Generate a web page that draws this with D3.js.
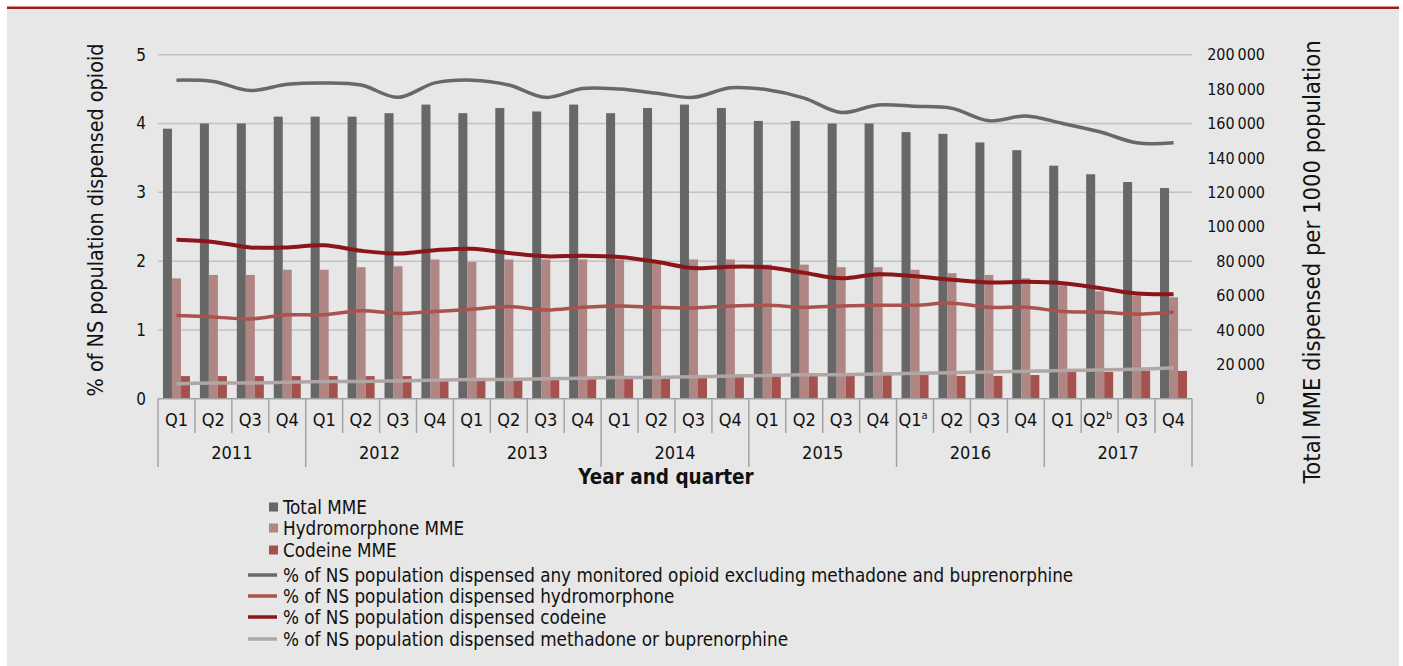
<!DOCTYPE html>
<meta charset="utf-8">
<style>
body { margin: 0; background: #fff; }
text { font-family: "Liberation Sans Narrow", "DejaVu Sans Condensed", sans-serif; fill: #111; }
</style>
<body>
<script src="https://d3js.org/d3.v7.min.js"></script>
<script>

const width = 1403,
    height = 666

// categories
var years = ['2011', '2012', '2013', '2014', '2015', '2016', '2017']
var quarters = ['Q1', 'Q2', 'Q3', 'Q4']
var supers = { '2016-Q1': 'a', '2017-Q2': 'b' }

// bar series (right axis, MME per 1000 population)
var totalMME = [157000, 160000, 160000, 164000, 164000, 164000, 166000, 171000,
    166000, 169000, 167000, 171000, 166000, 169000, 171000, 169000,
    161500, 161500, 160000, 160000, 155000, 154000, 149000, 144500,
    135500, 130500, 126000, 122500]
var hydroMME = [70000, 72000, 72000, 75000, 75000, 76500, 77000, 81000,
    79500, 81000, 81000, 81000, 81000, 79000, 81000, 81000,
    78000, 78000, 76500, 76500, 75000, 73000, 72000, 70000,
    66000, 62500, 60000, 59000]
var codeineMME = [13200, 13200, 13200, 13200, 13200, 13200, 13200, 11200,
    11300, 11400, 11500, 11600, 11700, 12100, 12500, 13800,
    12900, 13300, 13800, 13800, 13800, 13300, 13300, 13800,
    15600, 15600, 16400, 16200]

// line series (left axis, %)
var anyOpioidPct = [4.63, 4.61, 4.48, 4.57, 4.59, 4.56, 4.38, 4.59,
    4.63, 4.56, 4.38, 4.51, 4.50, 4.44, 4.38, 4.52,
    4.49, 4.37, 4.16, 4.27, 4.25, 4.22, 4.04, 4.11,
    4.00, 3.88, 3.72, 3.72]
var hydroPct = [1.21, 1.19, 1.16, 1.22, 1.22, 1.28, 1.24, 1.27,
    1.30, 1.34, 1.29, 1.33, 1.35, 1.33, 1.32, 1.35,
    1.36, 1.33, 1.35, 1.36, 1.36, 1.39, 1.33, 1.33,
    1.27, 1.26, 1.23, 1.26]
var codeinePct = [2.31, 2.28, 2.20, 2.20, 2.23, 2.15, 2.11, 2.16,
    2.18, 2.12, 2.07, 2.08, 2.06, 1.99, 1.90, 1.92,
    1.91, 1.83, 1.75, 1.81, 1.78, 1.73, 1.69, 1.70,
    1.68, 1.61, 1.53, 1.52]
var methadonePct = [0.22, 0.23, 0.23, 0.24, 0.25, 0.25, 0.26, 0.27,
    0.28, 0.28, 0.29, 0.30, 0.31, 0.31, 0.32, 0.33,
    0.34, 0.35, 0.35, 0.36, 0.37, 0.38, 0.39, 0.40,
    0.41, 0.42, 0.43, 0.45]

var leftTicks = [0, 1, 2, 3, 4, 5]
var rightTicks = d3.range(0, 200001, 20000)

var barSeries = [
    { name: 'Total MME', values: totalMME, color: '#666766' },
    { name: 'Hydromorphone MME', values: hydroMME, color: '#b08684' },
    { name: 'Codeine MME', values: codeineMME, color: '#a5524f' }
]
var lineSeries = [
    { name: '% of NS population dispensed any monitored opioid excluding methadone and buprenorphine', values: anyOpioidPct, color: '#686868', w: 3.5 },
    { name: '% of NS population dispensed hydromorphone', values: hydroPct, color: '#a9524e', w: 3.5 },
    { name: '% of NS population dispensed codeine', values: codeinePct, color: '#8b1518', w: 4 },
    { name: '% of NS population dispensed methadone or buprenorphine', values: methadonePct, color: '#b1a6a6', w: 3.5 }
]

var cats = []
years.forEach(function (y) {
    quarters.forEach(function (q) { cats.push(y + '-' + q) })
})

var svg = d3.select('body')
    .append('svg')
    .attr('width', width)
    .attr('height', height)

// panel
svg.append('rect')
    .attr('x', 7).attr('y', 8)
    .attr('width', 1392).attr('height', 658)
    .attr('fill', '#e6e7e6')
svg.append('rect')
    .attr('x', 7).attr('y', 6.5)
    .attr('width', 1392).attr('height', 2.5)
    .attr('fill', '#9d1b1b')

var x = d3.scaleBand().domain(cats).range([158, 1192])
var xSub = d3.scaleBand().domain([0, 1, 2])
    .range([0, x.bandwidth()])
    .paddingOuter(0.55)
var yL = d3.scaleLinear().domain([0, 5]).range([398.8, 54.7])
var yR = d3.scaleLinear().domain([0, 200000]).range([398.8, 54.7])

// gridlines
svg.append('g').selectAll('line')
    .data(leftTicks.slice(1))
    .enter().append('line')
    .attr('x1', 158).attr('x2', 1192)
    .attr('y1', function (d) { return yL(d) })
    .attr('y2', function (d) { return yL(d) })
    .attr('stroke', '#c2c2c2')
    .attr('stroke-width', 1.5)

// left tick labels
svg.append('g').selectAll('text')
    .data(leftTicks)
    .enter().append('text')
    .attr('x', 146)
    .attr('y', function (d) { return yL(d) })
    .attr('dy', '0.35em')
    .attr('text-anchor', 'end')
    .style('font-size', '17px')
    .text(function (d) { return d })

// right tick labels
svg.append('g').selectAll('text')
    .data(rightTicks)
    .enter().append('text')
    .attr('x', 1265)
    .attr('y', function (d) { return yR(d) })
    .attr('dy', '0.35em')
    .attr('text-anchor', 'end')
    .style('font-size', '16px')
    .text(function (d) { return d3.format(',')(d).replace(/,/g, '\u2009') })

// bars
barSeries.forEach(function (s, i) {
    svg.append('g').selectAll('rect')
        .data(s.values)
        .enter().append('rect')
        .attr('x', function (d, j) { return x(cats[j]) + xSub(i) })
        .attr('width', xSub.bandwidth())
        .attr('y', function (d) { return yR(d) })
        .attr('height', function (d) { return yR(0) - yR(d) })
        .attr('fill', s.color)
})

// lines
var line = d3.line()
    .x(function (d, j) { return x(cats[j]) + x.bandwidth() / 2 })
    .y(function (d) { return yL(d) })
    .curve(d3.curveCatmullRom.alpha(0.5))

lineSeries.slice().reverse().forEach(function (s) {
    svg.append('path')
        .datum(s.values)
        .attr('d', line)
        .attr('fill', 'none')
        .attr('stroke', s.color)
        .attr('stroke-width', s.w)
})

// category axis
var axis = svg.append('g').attr('stroke', '#a3a3a3').attr('stroke-width', 1.5)
axis.append('line')
    .attr('x1', 158).attr('x2', 1192)
    .attr('y1', 398.8).attr('y2', 398.8)
axis.selectAll('.qdiv')
    .data(cats)
    .enter().append('line')
    .attr('x1', function (d) { return x(d) })
    .attr('x2', function (d) { return x(d) })
    .attr('y1', 398.8)
    .attr('y2', function (d) { return d.slice(5) === 'Q1' ? 467 : 433 })
axis.append('line')
    .attr('x1', 1192).attr('x2', 1192)
    .attr('y1', 398.8).attr('y2', 467)

var qLabels = svg.append('g').selectAll('text')
    .data(cats)
    .enter().append('text')
    .attr('x', function (d) { return x(d) + x.bandwidth() / 2 + (supers[d] ? -2 : 0) })
    .attr('y', 426)
    .attr('text-anchor', 'middle')
    .style('font-size', '18px')
qLabels.append('tspan').text(function (d) { return d.slice(5) })
qLabels.filter(function (d) { return supers[d] })
    .append('tspan')
    .attr('dy', -7)
    .style('font-size', '11px')
    .text(function (d) { return supers[d] })

svg.append('g').selectAll('text')
    .data(years)
    .enter().append('text')
    .attr('x', function (d) { return (x(d + '-Q1') + x(d + '-Q4') + x.bandwidth()) / 2 })
    .attr('y', 459)
    .attr('text-anchor', 'middle')
    .style('font-size', '18px')
    .text(function (d) { return d })

// axis titles
svg.append('text')
    .attr('x', 666).attr('y', 484)
    .attr('text-anchor', 'middle')
    .style('font-size', '20.5px')
    .style('font-weight', 'bold')
    .text('Year and quarter')

svg.append('text')
    .attr('transform', 'translate(95,220) rotate(-90)')
    .attr('text-anchor', 'middle')
    .attr('dy', '0.35em')
    .style('font-size', '21.4px')
    .text('% of NS population dispensed opioid')

svg.append('text')
    .attr('transform', 'translate(1312,262) rotate(-90)')
    .attr('text-anchor', 'middle')
    .attr('dy', '0.35em')
    .style('font-size', '23.6px')
    .text('Total MME dispensed per 1000 population')

// legend
var legendRows = [507, 528, 550, 575, 596, 617, 639]
var legend = svg.append('g')
barSeries.forEach(function (s, i) {
    legend.append('rect')
        .attr('x', 269).attr('y', legendRows[i] - 4.5)
        .attr('width', 9).attr('height', 9)
        .attr('fill', s.color)
    legend.append('text')
        .attr('x', 283).attr('y', legendRows[i])
        .attr('dy', '0.35em')
        .style('font-size', '18.7px')
        .text(s.name)
})
lineSeries.forEach(function (s, i) {
    var yy = legendRows[i + 3]
    legend.append('line')
        .attr('x1', 248).attr('x2', 277)
        .attr('y1', yy).attr('y2', yy)
        .attr('stroke', s.color)
        .attr('stroke-width', 3.5)
    legend.append('text')
        .attr('x', 283).attr('y', yy)
        .attr('dy', '0.35em')
        .style('font-size', '18.7px')
        .text(s.name)
})

</script>
</body>
